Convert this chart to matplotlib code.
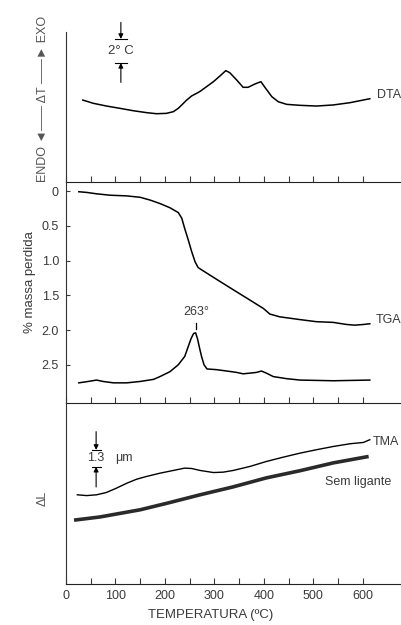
import numpy as np
import matplotlib
matplotlib.use("Agg")
import matplotlib.pyplot as plt

plt.rcParams["font.family"] = ["Liberation Sans", "DejaVu Sans"]
plt.rcParams["font.size"] = 9

# DTA (delta T, degC, arbitrary baseline)
dta_t = [34, 55, 82, 109, 136, 163, 183, 203, 217, 227, 234, 244, 254, 264, 271, 284, 298, 311, 323,
         331, 345, 358, 368, 382, 394, 402, 416, 429, 446, 473, 506, 540, 574, 614]
dta_v = [6.83, 6.56, 6.33, 6.14, 5.94, 5.78, 5.69, 5.72, 5.86, 6.14, 6.42, 6.83, 7.17, 7.39, 7.55, 7.94, 8.36, 8.83, 9.28,
         9.11, 8.5, 7.89, 7.89, 8.17, 8.36, 7.89, 7.11, 6.69, 6.47, 6.39, 6.33, 6.42, 6.61, 6.94]

# TGA (% massa perdida)
tga_t = [26, 42, 62, 89, 123, 150, 170, 190, 210, 227, 234, 240, 247, 254, 261, 267, 271, 291, 311,
         338, 372, 399, 412, 432, 473, 506, 540, 567, 584, 601, 614]
tga_v = [0.01, 0.02, 0.04, 0.06, 0.07, 0.09, 0.13, 0.18, 0.24, 0.31, 0.39, 0.54, 0.70, 0.87, 1.02, 1.10, 1.12, 1.21, 1.30,
         1.42, 1.57, 1.69, 1.77, 1.81, 1.85, 1.88, 1.89, 1.92, 1.93, 1.92, 1.91]

# DTG curve drawn under the TGA
dtg_t = [26, 45, 62, 75, 96, 123, 150, 177, 190, 210, 227, 240, 247, 253, 258, 262, 266, 270, 274,
         279, 285, 304, 325, 345, 358, 372, 385, 395, 405, 419, 446, 473, 540, 614]
dtg_v = [2.76, 2.74, 2.72, 2.74, 2.76, 2.76, 2.74, 2.71, 2.67, 2.60, 2.50, 2.38, 2.24, 2.12, 2.05, 2.04, 2.13, 2.26, 2.38,
         2.50, 2.56, 2.57, 2.59, 2.61, 2.63, 2.62, 2.61, 2.59, 2.62, 2.67, 2.70, 2.72, 2.73, 2.72]
dtg_peak = 263

# TMA (delta L, um)
tma_t = [23, 42, 62, 82, 102, 123, 143, 163, 190, 217, 240, 254, 271, 298, 318, 338, 372, 405,
         439, 473, 506, 540, 574, 601, 614]
tma_v = [6.85, 6.79, 6.85, 7.03, 7.36, 7.74, 8.05, 8.26, 8.51, 8.72, 8.9, 8.87, 8.72, 8.56, 8.59, 8.72, 9.03, 9.41,
         9.74, 10.05, 10.31, 10.56, 10.77, 10.87, 11.08]
sem_t = [20, 69, 150, 204, 271, 338, 405, 473, 540, 608]
sem_v = [4.92, 5.15, 5.7, 6.2, 6.85, 7.46, 8.15, 8.7, 9.3, 9.77]

xticks = np.arange(0, 601, 50)
xlabels = [str(v) if v % 100 == 0 else "" for v in xticks]
tga_ticks = [0, 0.5, 1.0, 1.5, 2.0, 2.5]
tga_labels = ["0", "0.5", "1.0", "1.5", "2.0", "2.5"]

TXT = "#3a3a3a"

fig = plt.figure(figsize=(4.02, 6.25), dpi=100)
left, width = 0.164, 0.836
ax1 = fig.add_axes([left, 0.7088, width, 0.24])
ax2 = fig.add_axes([left, 0.3552, width, 0.3536])
ax3 = fig.add_axes([left, 0.0656, width, 0.2896])

for ax in (ax1, ax2, ax3):
    ax.set_xlim(0, 679)
    for s in ("top", "right"):
        ax.spines[s].set_visible(False)
    ax.spines["left"].set_color("#333333")
    ax.spines["bottom"].set_color("#222222")
    ax.set_xticks(xticks)
    ax.tick_params(axis="x", direction="in", length=4, width=0.8, colors=TXT)
    ax.set_xticklabels([])
    ax.set_yticks([])
    ax.patch.set_alpha(0)

# --- DTA
ax1.set_ylim(0, 12.5)
ax1.plot(dta_t, dta_v, color="k", lw=1.1)
ax1.text(628, 7.25, "DTA", va="center", ha="left", color=TXT)
# 2 degC scale bar
bx = 111
ax1.plot([99, 123], [11.92, 11.92], color="k", lw=0.8, clip_on=False)
ax1.plot([99, 123], [9.92, 9.92], color="k", lw=0.8, clip_on=False)
ax1.annotate("", xy=(bx, 11.92), xytext=(bx, 13.3), annotation_clip=False,
             arrowprops=dict(arrowstyle="-|>", lw=0.8, color="k", mutation_scale=7, shrinkA=0, shrinkB=0))
ax1.annotate("", xy=(bx, 9.92), xytext=(bx, 8.3), annotation_clip=False,
             arrowprops=dict(arrowstyle="-|>", lw=0.8, color="k", mutation_scale=7, shrinkA=0, shrinkB=0))
ax1.text(bx, 10.92, "2° C", ha="center", va="center", color=TXT, fontsize=9.5)

# --- TGA
ax2.set_ylim(3.05, -0.13)
ax2.plot(tga_t, tga_v, color="k", lw=1.1)
ax2.plot(dtg_t, dtg_v, color="k", lw=1.1)
ax2.set_yticks(tga_ticks)
ax2.set_yticklabels(tga_labels)
ax2.tick_params(axis="y", direction="in", length=3, width=0.8, colors=TXT, pad=5)
ax2.text(626, 1.85, "TGA", va="center", ha="left", color=TXT)
ax2.plot([dtg_peak, dtg_peak], [1.9, 1.98], color="k", lw=0.9)
ax2.text(dtg_peak, 1.82, "263°", ha="center", va="bottom", color=TXT)

# --- TMA
ax3.set_ylim(0, 13.9)
ax3.plot(tma_t, tma_v, color="k", lw=1.0)
ax3.plot(sem_t, sem_v, color="#2a2a2a", lw=2.6)
ax3.text(620, 10.9, "TMA", va="center", ha="left", color=TXT)
ax3.text(523, 7.85, "Sem ligante", va="center", ha="left", color=TXT)
ax3.set_xticklabels(xlabels)
ax3.tick_params(axis="x", labelsize=9, pad=4)
# 1.3 um scale bar
sx = 61
ax3.plot([53, 71], [10.3, 10.3], color="k", lw=0.8)
ax3.plot([53, 71], [9.0, 9.0], color="k", lw=0.8)
ax3.annotate("", xy=(sx, 10.3), xytext=(sx, 11.7),
             arrowprops=dict(arrowstyle="-|>", lw=0.8, color="k", mutation_scale=7, shrinkA=0, shrinkB=0))
ax3.annotate("", xy=(sx, 9.0), xytext=(sx, 7.45),
             arrowprops=dict(arrowstyle="-|>", lw=0.8, color="k", mutation_scale=7, shrinkA=0, shrinkB=0))
ax3.text(sx, 9.65, "1.3", ha="center", va="center", color=TXT)
ax3.text(99, 9.65, "μm", ha="left", va="center", color=TXT)

fig.text(0.107, 0.842, "ENDO ◄—— ΔT ——► EXO", rotation=90, ha="center", va="center", color="#555555")
fig.text(0.0746, 0.549, "% massa perdida", rotation=90, ha="center", va="center", color=TXT, fontsize=9.5)
fig.text(0.107, 0.203, "ΔL", rotation=90, ha="center", va="center", color="#555555")
fig.text(0.525, 0.016, "TEMPERATURA (ºC)", ha="center", va="center", color=TXT, fontsize=9.5)

fig.savefig("out.png", dpi=100)
